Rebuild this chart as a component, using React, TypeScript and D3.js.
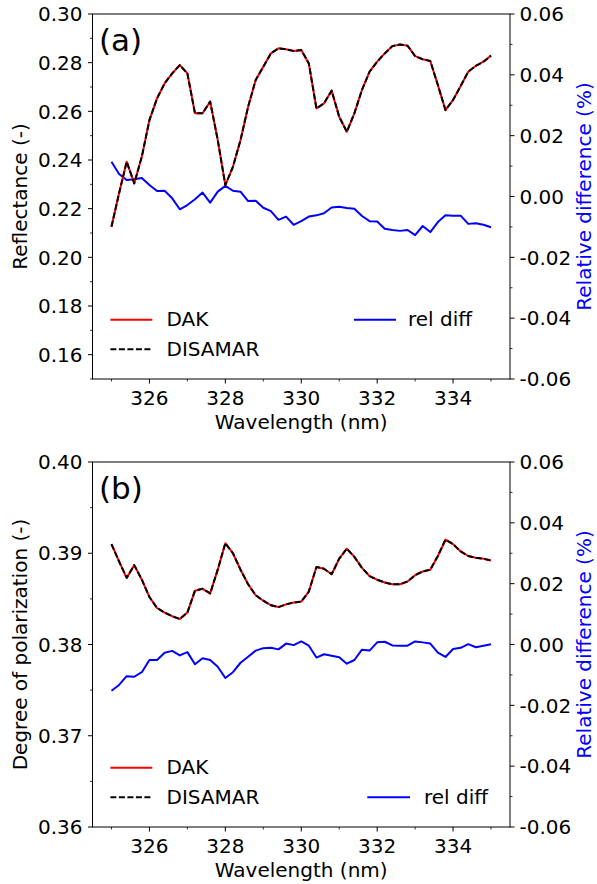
import React from "react";
import * as d3 from "d3";

const wavelength: number[] = Array.from({ length: 51 }, (_, i) => +(325 + i * 0.2).toFixed(1));

const reflDAK: number[] = [
  0.2126, 0.2263, 0.2393, 0.2304, 0.2414, 0.2564, 0.2653, 0.2715, 0.2756, 0.279,
  0.2756, 0.2592, 0.2592, 0.264, 0.2482, 0.2297, 0.2372, 0.2482, 0.2619, 0.2729,
  0.2783, 0.2838, 0.2859, 0.2855, 0.2848, 0.2852, 0.2797, 0.2612, 0.2633, 0.2685,
  0.2578, 0.2516, 0.2592, 0.2688, 0.2763, 0.2804, 0.2838, 0.2868, 0.2875, 0.287,
  0.2827, 0.2814, 0.2807, 0.2708, 0.2605, 0.2647, 0.2704, 0.2763, 0.2787, 0.2804,
  0.2829,
];
const reflDISAMAR: number[] = reflDAK.slice();
const reflRelDiff: number[] = [
  0.0114, 0.0074, 0.0054, 0.0057, 0.0061, 0.0038, 0.0018, 0.0019, -0.0006, -0.0042,
  -0.0028, -0.0009, 0.0013, -0.002, 0.0016, 0.0035, 0.0019, 0.0016, -0.0015, -0.0014,
  -0.0037, -0.0048, -0.0077, -0.0066, -0.0093, -0.0081, -0.0066, -0.0062, -0.0055, -0.0036,
  -0.0034, -0.0038, -0.004, -0.0064, -0.0081, -0.0082, -0.0106, -0.011, -0.0113, -0.011,
  -0.0127, -0.0097, -0.0117, -0.0084, -0.0062, -0.0063, -0.0063, -0.009, -0.0088, -0.0093,
  -0.0101,
];

const dopDAK: number[] = [
  0.391, 0.3891, 0.3873, 0.3887, 0.3871, 0.3852, 0.384, 0.3835, 0.3831, 0.3828,
  0.3835, 0.3859, 0.3861, 0.3856, 0.3882, 0.3911, 0.39, 0.3882, 0.3866, 0.3854,
  0.3848, 0.3843, 0.3841, 0.3844, 0.3846, 0.3847, 0.3858, 0.3885, 0.3883, 0.3877,
  0.3894, 0.3905, 0.3896, 0.3884, 0.3875, 0.3871, 0.3868, 0.3866, 0.3866, 0.3869,
  0.3876, 0.388, 0.3882, 0.3897, 0.3915, 0.391, 0.3902, 0.3897, 0.3895, 0.3894,
  0.3892,
];
const dopDISAMAR: number[] = dopDAK.slice();
const dopRelDiff: number[] = [
  -0.0152, -0.0133, -0.0104, -0.0106, -0.0091, -0.0051, -0.0051, -0.0027, -0.0021, -0.0036,
  -0.0025, -0.0065, -0.0045, -0.0051, -0.0073, -0.011, -0.0091, -0.006, -0.004, -0.002,
  -0.0012, -0.0011, -0.0016, 0.0003, -0.0002, 0.001, -0.0004, -0.0043, -0.0032, -0.0037,
  -0.0042, -0.0063, -0.0051, -0.0017, -0.002, 0.0007, 0.0009, -0.0003, -0.0004, -0.0004,
  0.001, 0.0007, 0.0003, -0.0027, -0.0041, -0.0015, -0.0011, 0.0001, -0.0009, -0.0004,
  0.0001,
];

const xMajorTicks: number[] = [326, 328, 330, 332, 334];
const xMinorTicks: number[] = [325, 327, 329, 331, 333, 335];
const reflTicks: number[] = [0.16, 0.18, 0.2, 0.22, 0.24, 0.26, 0.28, 0.3];
const reflMinor: number[] = [0.15, 0.17, 0.19, 0.21, 0.23, 0.25, 0.27, 0.29];
const dopTicks: number[] = [0.36, 0.37, 0.38, 0.39, 0.4];
const dopMinor: number[] = [0.365, 0.375, 0.385, 0.395];
const diffTicks: number[] = [-0.06, -0.04, -0.02, 0, 0.02, 0.04, 0.06];
const diffMinor: number[] = [-0.05, -0.03, -0.01, 0.01, 0.03, 0.05];

const FONT = "DejaVu Sans, sans-serif";
const FS = 20;
const LEFT = 92.5;
const RIGHT = 510;

type PanelProps = {
  top: number;
  bottom: number;
  yDomain: [number, number];
  yTicks: number[];
  yMinor: number[];
  yFmt: (v: number) => string;
  yLabel: string;
  tag: string;
  dak: number[];
  dis: number[];
  diff: number[];
  relDiffRow: number;
  relLine: [number, number];
  relText: number;
};

function Panel(p: PanelProps) {
  const x = d3.scaleLinear().domain([324.5, 335.5]).range([LEFT, RIGHT]);
  const y = d3.scaleLinear().domain(p.yDomain).range([p.bottom, p.top]);
  const y2 = d3.scaleLinear().domain([-0.06, 0.06]).range([p.bottom, p.top]);
  const line = d3
    .line<number>()
    .x((_, i) => x(wavelength[i]))
    .y((d) => y(d));
  const line2 = d3
    .line<number>()
    .x((_, i) => x(wavelength[i]))
    .y((d) => y2(d));
  const diffFmt = d3.format(".2f");
  const cy = (p.top + p.bottom) / 2;
  const cx = (LEFT + RIGHT) / 2;
  const row1 = p.top + 305.7;
  const row2 = p.top + 335.3;
  const rowRel = p.relDiffRow === 1 ? row1 : row2;
  const ax = "#000";
  return (
    <g>
      {/* data */}
      <path d={line2(p.diff) || ""} fill="none" stroke="#0000ff" strokeWidth={2} strokeLinejoin="round" />
      <path d={line(p.dak) || ""} fill="none" stroke="#ff0000" strokeWidth={2} strokeLinejoin="round" />
      <path d={line(p.dis) || ""} fill="none" stroke="#000" strokeWidth={2} strokeDasharray="6,2.5" strokeLinejoin="round" />
      {/* frame */}
      <rect x={LEFT} y={p.top} width={RIGHT - LEFT} height={p.bottom - p.top} fill="none" stroke={ax} strokeWidth={1} />
      {/* x ticks */}
      {xMajorTicks.map((t) => (
        <g key={"xm" + t}>
          <line x1={x(t)} x2={x(t)} y1={p.bottom} y2={p.bottom + 4.5} stroke={ax} strokeWidth={1} />
          <text x={x(t)} y={p.bottom + 25.5} fontSize={FS} fontFamily={FONT} textAnchor="middle">{t}</text>
        </g>
      ))}
      {xMinorTicks.map((t) => (
        <line key={"xn" + t} x1={x(t)} x2={x(t)} y1={p.bottom} y2={p.bottom + 2.5} stroke={ax} strokeWidth={0.8} />
      ))}
      <text x={cx} y={p.bottom + 49.5} fontSize={FS} fontFamily={FONT} textAnchor="middle">Wavelength (nm)</text>
      {/* left y */}
      {p.yTicks.map((t) => (
        <g key={"ym" + t}>
          <line x1={LEFT - 4.5} x2={LEFT} y1={y(t)} y2={y(t)} stroke={ax} strokeWidth={1} />
          <text x={82.5} y={y(t)} dy="0.36em" fontSize={FS} fontFamily={FONT} textAnchor="end">{p.yFmt(t)}</text>
        </g>
      ))}
      {p.yMinor.map((t) => (
        <line key={"yn" + t} x1={LEFT - 2.5} x2={LEFT} y1={y(t)} y2={y(t)} stroke={ax} strokeWidth={0.8} />
      ))}
      <text transform={`translate(27,${cy}) rotate(-90)`} fontSize={FS} fontFamily={FONT} textAnchor="middle">{p.yLabel}</text>
      {/* right y */}
      {diffTicks.map((t) => (
        <g key={"rm" + t}>
          <line x1={RIGHT} x2={RIGHT + 4.5} y1={y2(t)} y2={y2(t)} stroke={ax} strokeWidth={1} />
          <text x={519.5} y={y2(t)} dy="0.36em" fontSize={FS} fontFamily={FONT} textAnchor="start">{diffFmt(t).replace("−", "-")}</text>
        </g>
      ))}
      {diffMinor.map((t) => (
        <line key={"rn" + t} x1={RIGHT} x2={RIGHT + 2.5} y1={y2(t)} y2={y2(t)} stroke={ax} strokeWidth={0.8} />
      ))}
      <text transform={`translate(591,${cy}) rotate(-90)`} fontSize={FS} fontFamily={FONT} textAnchor="middle" fill="#0000ff">Relative difference (%)</text>
      {/* panel tag */}
      <text x={99} y={p.top + 36.5} fontSize={31} fontFamily={FONT}>{p.tag}</text>
      {/* legend */}
      <line x1={110.4} x2={152.3} y1={row1} y2={row1} stroke="#ff0000" strokeWidth={2} />
      <text x={166.5} y={row1 + 6.6} fontSize={FS} fontFamily={FONT}>DAK</text>
      <line x1={110.4} x2={152.3} y1={row2} y2={row2} stroke="#000" strokeWidth={2} strokeDasharray="6,2.5" />
      <text x={166.5} y={row2 + 6.6} fontSize={FS} fontFamily={FONT}>DISAMAR</text>
      <line x1={p.relLine[0]} x2={p.relLine[1]} y1={rowRel} y2={rowRel} stroke="#0000ff" strokeWidth={2} />
      <text x={p.relText} y={rowRel + 6.6} fontSize={FS} fontFamily={FONT}>rel diff</text>
    </g>
  );
}

export default function App() {
  return (
    <svg
      width={597}
      height={884}
      viewBox="0 0 597 884"
      style={{ position: "absolute", left: 0, top: 0, background: "#fff" }}
    >
      <rect x={0} y={0} width={597} height={884} fill="#fff" />
      <Panel
        top={14}
        bottom={379}
        yDomain={[0.15, 0.3]}
        yTicks={reflTicks}
        yMinor={reflMinor}
        yFmt={d3.format(".2f")}
        yLabel="Reflectance (-)"
        tag="(a)"
        dak={reflDAK}
        dis={reflDISAMAR}
        diff={reflRelDiff}
        relDiffRow={1}
        relLine={[354, 396]}
        relText={408}
      />
      <Panel
        top={462}
        bottom={827}
        yDomain={[0.36, 0.4]}
        yTicks={dopTicks}
        yMinor={dopMinor}
        yFmt={d3.format(".2f")}
        yLabel="Degree of polarization (-)"
        tag="(b)"
        dak={dopDAK}
        dis={dopDISAMAR}
        diff={dopRelDiff}
        relDiffRow={2}
        relLine={[367.3, 410]}
        relText={424}
      />
    </svg>
  );
}
